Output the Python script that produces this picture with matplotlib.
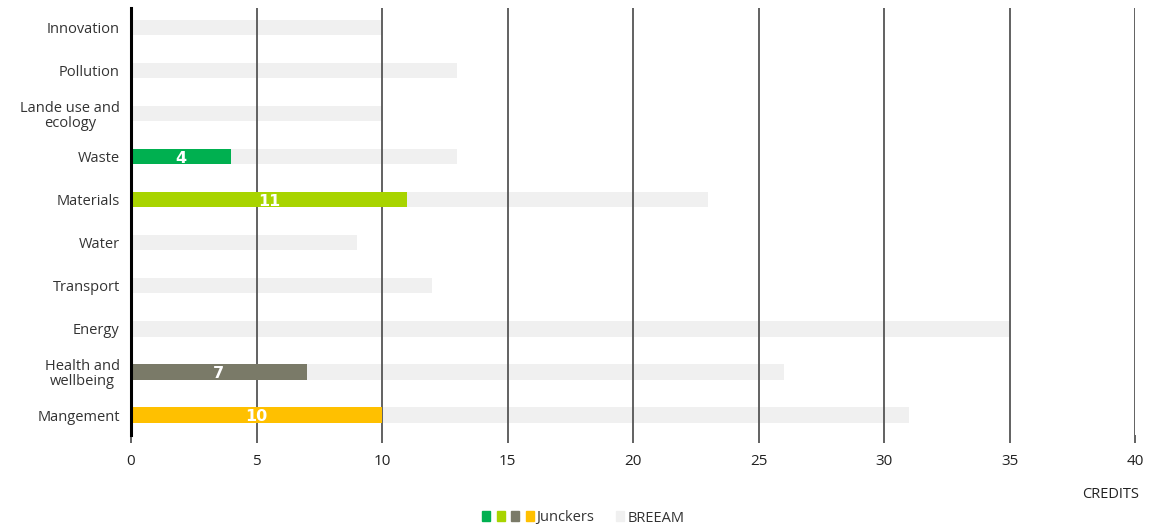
import matplotlib.pyplot as plt
from matplotlib.patches import Rectangle

plt.rcParams['font.family'] = ['Open Sans', 'DejaVu Sans']

# categories top to bottom
categories = ["Innovation", "Pollution", "Lande use and\necology", "Waste", "Materials",
              "Water", "Transport", "Energy", "Health and\nwellbeing", "Mangement"]
breeam = [10, 13, 10, 13, 23, 9, 12, 35, 26, 31]
junckers = [0, 0, 0, 4, 11, 0, 0, 0, 7, 10]
junckers_colors = ["#00B050", "#00B050", "#00B050", "#00B050", "#A8D400",
                   "#A8D400", "#A8D400", "#A8D400", "#7A7A68", "#FFC000"]
legend_colors = ["#00B050", "#A8D400", "#7A7A68", "#FFC000"]
breeam_color = "#F0F0F0"
xticks = [0, 5, 10, 15, 20, 25, 30, 35, 40]

fig = plt.figure(figsize=(11.49, 5.26), dpi=100)
ax = fig.add_axes([0.114, 0.173, 0.874, 0.812])

y = list(range(len(categories)))
bar_h = 0.35
ax.barh(y, breeam, height=bar_h, color=breeam_color, zorder=1)
ax.barh(y, junckers, height=bar_h, color=junckers_colors, zorder=3)

for yi, v in zip(y, junckers):
    if v > 0:
        ax.text(v / 2, yi + 0.03, str(v), ha="center", va="center", color="white",
                fontsize=11.5, fontweight="bold", family="DejaVu Sans", zorder=4)

ax.set_ylim(len(categories) - 0.535, -0.465)
ax.set_xlim(0, 40)
ax.set_xticks(xticks)
ax.set_yticks(y)
ax.set_yticklabels(categories, fontsize=10.5, color="#333333", linespacing=1.0,
                   multialignment="center")
ax.tick_params(axis="y", length=0, pad=8)
ax.tick_params(axis="x", length=6, width=1.3, color="#555555", labelsize=11,
               labelcolor="#222222", pad=8)

for x in xticks[1:]:
    ax.axvline(x, color="#555555", linewidth=1.3, zorder=2)

for s in ["top", "right", "bottom"]:
    ax.spines[s].set_visible(False)
ax.spines["left"].set_linewidth(2.2)
ax.spines["left"].set_color("black")
ax.spines["left"].set_zorder(5)

fig.text(0.991, 0.059, "CREDITS", ha="right", va="center", fontsize=10.5, color="#222222")

# legend drawn by hand: four small Junckers squares, then BREEAM
W, H = 1149, 526
sq_w, sq_h = 8 / W, 10 / H
leg_y = 1 - 521 / H
for i, c in enumerate(legend_colors):
    fig.patches.append(Rectangle((482 / W + i * 14.5 / W, leg_y), sq_w, sq_h, color=c,
                                 transform=fig.transFigure, figure=fig))
fig.text(536 / W, leg_y + sq_h / 2 - 2 / H, "Junckers", ha="left", va="center",
         fontsize=10.5, color="#333333")
fig.patches.append(Rectangle((616 / W, leg_y), sq_w, sq_h, color=breeam_color,
                             transform=fig.transFigure, figure=fig))
fig.text(628 / W, leg_y + sq_h / 2 - 2 / H, "BREEAM", ha="left", va="center",
         fontsize=10.5, color="#333333")

fig.savefig("out.png", dpi=100)
